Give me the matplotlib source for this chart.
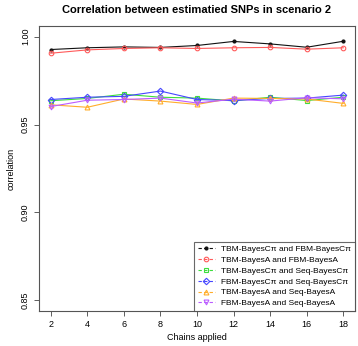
import matplotlib
matplotlib.use("Agg")
import matplotlib.pyplot as plt
from matplotlib.lines import Line2D

plt.rcParams['font.family'] = ['Liberation Sans', 'DejaVu Sans']

chains = [2, 4, 6, 8, 10, 12, 14, 16, 18]
tbm_cpi_fbm_cpi = [0.9926, 0.9936, 0.9941, 0.9938, 0.9949, 0.9972, 0.9958, 0.9939, 0.9973]
tbm_a_fbm_a = [0.9905, 0.9924, 0.9932, 0.9936, 0.9932, 0.9936, 0.9938, 0.9928, 0.9936]
tbm_cpi_seq_cpi = [0.9635, 0.9648, 0.9672, 0.9655, 0.9650, 0.9634, 0.9655, 0.9636, 0.9655]
fbm_cpi_seq_cpi = [0.9642, 0.9655, 0.9660, 0.9690, 0.9642, 0.9636, 0.9648, 0.9650, 0.9667]
tbm_a_seq_a = [0.9612, 0.9598, 0.9645, 0.9633, 0.9614, 0.9650, 0.9648, 0.9645, 0.9620]
fbm_a_seq_a = [0.9602, 0.9638, 0.9642, 0.9650, 0.9622, 0.9644, 0.9633, 0.9652, 0.9646]

labels = ["TBM-BayesC\u03c0 and FBM-BayesC\u03c0",
          "TBM-BayesA and FBM-BayesA",
          "TBM-BayesC\u03c0 and Seq-BayesC\u03c0",
          "FBM-BayesC\u03c0 and Seq-BayesC\u03c0",
          "TBM-BayesA and Seq-BayesA",
          "FBM-BayesA and Seq-BayesA"]
series = [tbm_cpi_fbm_cpi, tbm_a_fbm_a, tbm_cpi_seq_cpi, fbm_cpi_seq_cpi, tbm_a_seq_a, fbm_a_seq_a]
colors = ['#111111', '#ff5a5a', '#3ddd3d', '#4646ff', '#ffad2a', '#bb5cff']
markers = ['o', 'o', 's', 'D', '^', 'v']
msizes = [2.2, 3.3, 3.3, 3.3, 3.5, 3.5]
fills = [True, False, False, False, False, False]

fig = plt.figure(figsize=(3.58, 3.46), dpi=100)
ax = fig.add_axes([0.109, 0.101, 0.8826, 0.824])

handles = []
for y, c, m, ms, f, lab in zip(series, colors, markers, msizes, fills, labels):
    mfc = c if f else 'none'
    ax.plot(chains, y, color=c, lw=0.8, marker=m, ms=ms, mfc=mfc, mec=c, mew=0.8)
    handles.append(Line2D([0], [0], color=c, lw=0.8, ls=(0, (3, 2)), marker=m, ms=ms,
                          mfc=mfc, mec=c, mew=0.8))

ax.set_xlim(1.36, 18.64)
ax.set_ylim(0.844, 1.006)
ax.set_xticks(chains)
ax.set_yticks([0.85, 0.90, 0.95, 1.00])
ax.set_yticklabels(['0.85', '0.90', '0.95', '1.00'], rotation=90, va='center')
ax.tick_params(labelsize=6.5, length=3.5, width=0.6, color='#444444', pad=3)
for s in ax.spines.values():
    s.set_color('#555555')
    s.set_linewidth(0.8)

ax.set_xlabel('Chains applied', fontsize=6.5, labelpad=3)
ax.set_ylabel('correlation', fontsize=6.5, labelpad=4)
fig.suptitle('Correlation between estimatied SNPs in scenario 2', fontsize=8,
             fontweight='bold', x=0.55, y=0.985)

leg = ax.legend(handles, labels, loc='lower right', bbox_to_anchor=(1.0, 0.0),
                borderaxespad=0, fontsize=6, frameon=True, fancybox=False,
                handlelength=2.0, handletextpad=0.8, labelspacing=0.36,
                borderpad=0.45)
leg.get_frame().set_edgecolor('#444444')
leg.get_frame().set_linewidth(0.8)

fig.savefig('out.png', dpi=100)
